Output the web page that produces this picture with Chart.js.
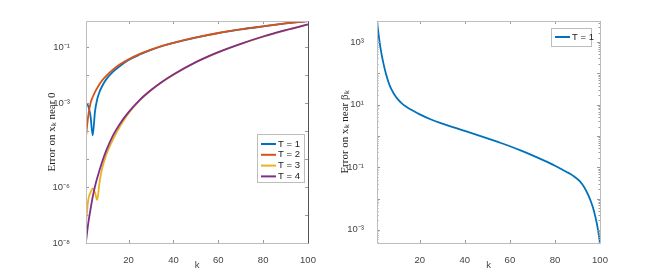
<!DOCTYPE html>
<html lang="en">
<head>
<meta charset="UTF-8">
<title>Error near 0 / near beta_k</title>
<script src="https://cdn.jsdelivr.net/npm/chart.js"></script>
<style>
  body { margin: 0; background: #fff; }
  #wrap { position: relative; width: 664px; height: 274px; }
  canvas { position: absolute; top: 0; }
</style>
</head>
<body>
<div id="wrap">
  <canvas id="leftChart" width="332" height="274" style="left:0"></canvas>
  <canvas id="rightChart" width="332" height="274" style="left:332px"></canvas>
</div>

<script>
// ---- left panel: error on x_k near 0, four values of T ----
const kT1 = [1, 2, 3, 4, 5, 6, 7, 8, 10, 13, 16, 20, 25, 30, 35, 40, 50, 60, 70, 80, 90, 100];
const errT1 = [1.0e-3, 7.9e-4, 3.5e-4, 7.1e-5, 5.0e-4, 1.4e-3, 2.5e-3, 3.8e-3, 7.1e-3, 1.32e-2, 2.1e-2, 3.5e-2, 5.5e-2, 8.1e-2, 0.111, 0.144, 0.223, 0.323, 0.436, 0.56, 0.71, 0.87];

const kT2 = [1, 2, 3, 4, 5, 6, 8, 10, 13, 16, 20, 25, 30, 35, 40, 50, 60, 70, 80, 90, 100];
const errT2 = [6.3e-5, 3.5e-4, 1.0e-3, 1.66e-3, 2.5e-3, 3.5e-3, 6.2e-3, 9.5e-3, 1.58e-2, 2.4e-2, 3.7e-2, 5.8e-2, 8.3e-2, 0.112, 0.145, 0.224, 0.324, 0.437, 0.56, 0.71, 0.87];

const kT3 = [1, 2, 3, 4, 5, 6, 7, 8, 10, 13, 16, 20, 25, 30, 35, 40, 50, 60, 70, 80, 90, 100];
const errT3 = [5.0e-8, 3.5e-7, 6.3e-7, 8.9e-7, 6.3e-7, 3.5e-7, 1.4e-6, 4.0e-6, 1.4e-5, 5.0e-5, 1.4e-4, 4.4e-4, 1.26e-3, 2.9e-3, 5.8e-3, 1.05e-2, 2.9e-2, 6.6e-2, 0.131, 0.24, 0.405, 0.65];

const kT4 = [1, 2, 3, 4, 5, 6, 8, 10, 13, 16, 20, 25, 30, 35, 40, 50, 60, 70, 80, 90, 100];
const errT4 = [1.12e-8, 5.0e-8, 1.58e-7, 4.5e-7, 1.05e-6, 2.1e-6, 7.1e-6, 2.0e-5, 6.9e-5, 1.78e-4, 4.8e-4, 1.32e-3, 2.95e-3, 5.9e-3, 1.07e-2, 2.95e-2, 6.7e-2, 0.133, 0.243, 0.41, 0.66];

const leftLabels = ['T = 1', 'T = 2', 'T = 3', 'T = 4'];
const leftYTicks = [1e-8, 1e-6, 1e-3, 1e-1];
const leftYTickLabels = ['10\u207B\u2078', '10\u207B\u2076', '10\u207B\u00B3', '10\u207B\u00B9'];

// ---- right panel: error on x_k near beta_k ----
const kRight = [1, 2, 3, 4, 5, 6, 7, 8, 9, 10, 12, 14, 16, 20, 25, 30, 35, 40, 45, 50, 55, 60, 65, 70, 75, 80, 85, 88, 91, 93, 95, 96, 97, 98, 99, 100];
const errRight = [4680, 1200, 417, 186, 95, 55, 35.5, 25.7, 19.5, 15.5, 11.0, 8.5, 7.0, 4.9, 3.35, 2.48, 1.88, 1.45, 1.11, 0.84, 0.63, 0.468, 0.339, 0.24, 0.166, 0.112, 0.072, 0.054, 0.036, 0.023, 0.012, 7.9e-3, 4.8e-3, 2.5e-3, 1.12e-3, 3.8e-4];
const rightLabels = ['T = 1'];
const rightYTicks = [1e-3, 1e-1, 1e1, 1e3];
const rightYTickLabels = ['10\u207B\u00B3', '10\u207B\u00B9', '10\u00B9', '10\u00B3'];

const xTicks = [20, 40, 60, 80, 100];

const colors = ['#0072BD', '#D95319', '#EDB120', '#7E2F8E'];
const tickFont = { family: 'Liberation Sans, Arial, sans-serif', size: 9.5 };

const toPoints = (ks, vs) => ks.map((k, i) => ({ x: k, y: vs[i] }));

// draws the axes box, the inward ticks and a matlab-like legend
const matlabFrame = {
    id: 'matlabFrame',
    afterDatasetsDraw(chart, args, opts) {
        const { ctx, chartArea: a, scales } = chart;
        const line = (x1, y1, x2, y2) => { ctx.beginPath(); ctx.moveTo(x1, y1); ctx.lineTo(x2, y2); ctx.stroke(); };
        ctx.save();
        ctx.lineWidth = 1;
        ctx.strokeStyle = '#9a9a9a';

        xTicks.forEach(v => {
            const x = Math.round(scales.x.getPixelForValue(v)) + 0.5;
            line(x, a.bottom, x, a.bottom - 3);
            line(x, a.top, x, a.top + 3);
        });
        opts.majors.forEach(v => {
            const y = Math.round(scales.y.getPixelForValue(v)) + 0.5;
            line(a.left, y, a.left + 3, y);
            line(a.right, y, a.right - 3, y);
        });
        (opts.minors || []).forEach(v => {
            if (v < scales.y.min || v > scales.y.max) return;
            const y = Math.round(scales.y.getPixelForValue(v)) + 0.5;
            line(a.left, y, a.left + 1.5, y);
            line(a.right, y, a.right - 1.5, y);
        });

        // box
        const L = Math.round(a.left) + 0.5, R = Math.round(a.right) + 0.5;
        const T = Math.round(a.top) + 0.5, B = Math.round(a.bottom) + 0.5;
        ctx.strokeStyle = '#bdbdbd';
        line(L, T, R, T);
        line(L, B, R, B);
        line(L, T, L, B);
        ctx.strokeStyle = opts.rightEdge;
        line(R, T, R, B);

        // legend
        const lg = opts.legend;
        ctx.fillStyle = '#fff';
        ctx.fillRect(lg.x, lg.y, lg.w, lg.h);
        ctx.strokeStyle = '#bdbdbd';
        ctx.strokeRect(lg.x + 0.5, lg.y + 0.5, lg.w, lg.h);
        ctx.font = '9.5px Liberation Sans, Arial, sans-serif';
        ctx.textBaseline = 'middle';
        chart.data.datasets.forEach((ds, i) => {
            const y = lg.y + lg.first + i * lg.step;
            ctx.strokeStyle = ds.borderColor;
            ctx.lineWidth = 2;
            line(lg.x + 4, y, lg.x + 19, y);
            ctx.fillStyle = '#222';
            ctx.fillText(ds.label, lg.x + 21, y);
        });
        ctx.restore();
    }
};

function makeOptions(cfg) {
    return {
        responsive: false,
        animation: false,
        layout: { padding: cfg.padding },
        elements: { point: { radius: 0 }, line: { borderWidth: 1.8, cubicInterpolationMode: 'monotone' } },
        plugins: {
            legend: { display: false },
            tooltip: { enabled: false },
            matlabFrame: cfg.frame
        },
        scales: {
            x: {
                type: 'linear',
                min: 1,
                max: 100,
                grid: { display: false },
                border: { display: false },
                afterBuildTicks: s => { s.ticks = xTicks.map(v => ({ value: v })); },
                afterFit: s => { s.height = 31; },
                ticks: { padding: 4, color: '#444', font: tickFont, maxRotation: 0 },
                title: { display: true, text: 'k', color: '#444', font: tickFont, padding: { top: 0, bottom: 3 } }
            },
            y: {
                type: 'logarithmic',
                min: cfg.yMin,
                max: cfg.yMax,
                grid: { display: false },
                border: { display: false },
                afterBuildTicks: s => { s.ticks = cfg.yTicks.map(v => ({ value: v })); },
                afterFit: s => { s.width = cfg.yWidth; },
                ticks: {
                    padding: cfg.tickPad,
                    color: '#444',
                    font: tickFont,
                    callback: v => cfg.yTickLabels[cfg.yTicks.indexOf(v)]
                },
                title: {
                    display: true,
                    text: cfg.yTitle,
                    color: '#222',
                    font: { family: 'Liberation Serif, Times New Roman, serif', size: 11 },
                    padding: { top: cfg.titlePad, bottom: 0 }
                }
            }
        }
    };
}

const leftSeries = [toPoints(kT1, errT1), toPoints(kT2, errT2), toPoints(kT3, errT3), toPoints(kT4, errT4)];

new Chart(document.getElementById('leftChart'), {
    type: 'line',
    data: {
        datasets: leftSeries.map((pts, i) => ({
            label: leftLabels[i],
            data: pts,
            borderColor: colors[i],
            order: leftSeries.length - i
        }))
    },
    options: makeOptions({
        padding: { left: 0, right: 24, top: 21, bottom: 0 },
        yMin: 1e-8, yMax: 0.87,
        yTicks: leftYTicks, yTickLabels: leftYTickLabels,
        yWidth: 86, tickPad: 8, titlePad: 46,
        yTitle: 'Error on x\u2096 near 0',
        frame: {
            majors: [1e-8, 1e-7, 1e-6, 1e-5, 1e-4, 1e-3, 1e-2, 1e-1],
            rightEdge: '#555',
            legend: { x: 257, y: 134, w: 47, h: 48, first: 10, step: 10.8 }
        }
    }),
    plugins: [matlabFrame]
});

const rightMinors = [];
[-4, -3, -2, -1, 0, 1, 2, 3].forEach(e => {
    [2, 3, 4, 5, 6, 7, 8, 9].forEach(m => rightMinors.push(m * Math.pow(10, e)));
});

new Chart(document.getElementById('rightChart'), {
    type: 'line',
    data: {
        datasets: [{
            label: rightLabels[0],
            data: toPoints(kRight, errRight),
            borderColor: colors[0]
        }]
    },
    options: makeOptions({
        padding: { left: 0, right: 64, top: 21, bottom: 0 },
        yMin: 3.8e-4, yMax: 4700,
        yTicks: rightYTicks, yTickLabels: rightYTickLabels,
        yWidth: 45, tickPad: 5, titlePad: 7,
        yTitle: 'Error on x\u2096 near \u03B2\u2096',
        frame: {
            majors: [1e-3, 1e-2, 1e-1, 1, 1e1, 1e2, 1e3],
            minors: rightMinors,
            rightEdge: '#bdbdbd',
            legend: { x: 219, y: 28, w: 40, h: 18, first: 9, step: 11 }
        }
    }),
    plugins: [matlabFrame]
});
</script>
</body>
</html>
